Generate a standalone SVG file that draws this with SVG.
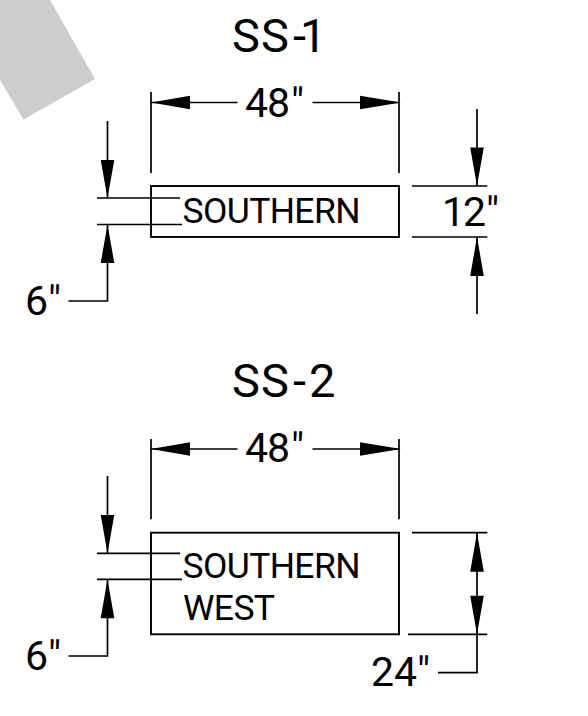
<svg xmlns="http://www.w3.org/2000/svg" width="588" height="716" viewBox="0 0 588 716">
  <style>
    .t { font-family: "Roboto", "Noto Sans", sans-serif; fill: #000; font-weight: 400; }
    .ttl { font-size: 47px; }
    .dim { font-size: 41px; }
    .lbl { font-size: 35.5px; }
    .ln { fill: none; stroke: #000; stroke-width: 1.7; }
    .box { fill: none; stroke: #000; stroke-width: 1.9; }
    .ah { fill: #000; }
  </style>
  <rect width="588" height="716" fill="#fff"/>
  <polygon id="gray-shape" points="50,0 95,79 23.5,119.5 0,80 0,0" fill="#cdcdcd"/>

  <g id="sign-ss1">
    <rect x="151" y="186" width="248" height="51" class="box"/>
    <text class="t lbl" x="182.5" y="222.5" textLength="178" lengthAdjust="spacing">SOUTHERN</text>
  </g>
  <g id="sign-ss2">
    <rect x="151" y="532.7" width="248" height="101.6" class="box"/>
    <text class="t lbl" x="182.5" y="577.5" textLength="178" lengthAdjust="spacing">SOUTHERN</text>
    <text class="t lbl" x="183" y="620" textLength="92" lengthAdjust="spacing">WEST</text>
  </g>
  <g id="title-ss1"><text class="t ttl" x="232 261 293 300" y="51.5">SS-1</text></g>
  <g id="title-ss2"><text class="t ttl" x="232 261 293 309" y="396.7">SS-2</text></g>
  <g id="dim-labels">
    <text class="t dim" x="245 267 291" y="116.5">48"</text>
    <text class="t dim" x="245 267 291" y="462.3">48"</text>
    <text class="t dim" x="442 463 486" y="226">12"</text>
    <text class="t dim" x="25 48" y="315">6"</text>
    <text class="t dim" x="25 48" y="670">6"</text>
    <text class="t dim" x="371 394 417" y="686">24"</text>
  </g>

  <g id="connectors">
    <path class="ln" d="M151 92V173M399 92V173M151 102.5H237.5M312.5 102.5H399"/>
    <path class="ah" d="M151 102.5L190 95.7V109.3ZM401 102.5L360 95.7V109.3Z"/>
    <path class="ln" d="M107.5 121V198M97 198H180M97 224.5H182M107.5 224.5V301H68.5"/>
    <path class="ah" d="M107.5 198L100.7 160H114.3ZM107.5 224.5L100.7 263H114.3Z"/>
    <path class="ln" d="M412 186H487.3M412 237H487.3M477 109V186M477 237V314"/>
    <path class="ah" d="M477 186L470.2 147.5H483.8ZM477 237L470.2 276H483.8Z"/>

    <path class="ln" d="M151 439V519.3M399 439V519.3M151 449H237.5M312.5 449H399"/>
    <path class="ah" d="M151 449L190 442.2V455.8ZM401 449L360 442.2V455.8Z"/>
    <path class="ln" d="M107.5 476V553.3M97 553.3H180M97 579.3H182M107.5 579.3V656H68.5"/>
    <path class="ah" d="M107.5 553.3L100.7 515H114.3ZM107.5 579.3L100.7 618.3H114.3Z"/>
    <path class="ln" d="M412 532.7H487.3M408 634.3H487.3M477 532.7V672.7H438"/>
    <path class="ah" d="M477 532.7L470.2 571.7H483.8ZM477 634.3L470.2 595.7H483.8Z"/>
  </g>
</svg>
